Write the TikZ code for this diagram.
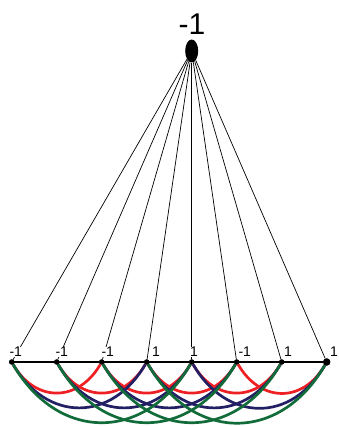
\documentclass[tikz,border=0pt]{standalone}
\usepackage{fontspec}
\setmainfont{Liberation Sans}
\usetikzlibrary{positioning,shapes.geometric}
\definecolor{arcred}{RGB}{237,32,36}
\definecolor{arcblue}{RGB}{35,31,100}
\definecolor{arcgreen}{RGB}{18,108,58}

\begin{document}
\begin{tikzpicture}[
    x=1pt, y=1pt,
    dot/.style={circle, fill=black, inner sep=0pt, minimum size=5pt},
    lab/.style={anchor=base east, fill=white, inner sep=0.5pt, font=\fontsize{14}{14}\selectfont},
    spoke/.style={black, line width=0.7pt},
    arc/.style={line width=2.7pt, draw=#1, out=-60, in=-120, looseness=1.3},
]
\useasboundingbox (0,0) rectangle (339,426);
% Top vertex
\node[ellipse, fill=black, minimum width=13pt, minimum height=23pt, inner sep=0pt] (top) at (191.7,375) {};
\node[font=\fontsize{30}{30}\selectfont] (toplab) at (192,402) {-1};
% Bottom vertices
\node[dot] (v0) at (11.7,64) {};
\node[dot] (v1) at (56.7,64) {};
\node[dot] (v2) at (101.7,64) {};
\node[dot] (v3) at (146.7,64) {};
\node[dot] (v4) at (191.7,64) {};
\node[dot] (v5) at (236.7,64) {};
\node[dot] (v6) at (281.7,64) {};
\node[dot, minimum size=7pt] (v7) at (326.7,64) {};
% Spokes
\draw[spoke] (top) -- (v0);
\draw[spoke] (top) -- (v1);
\draw[spoke] (top) -- (v2);
\draw[spoke] (top) -- (v3);
\draw[spoke] (top) -- (v4);
\draw[spoke] (top) -- (v5);
\draw[spoke] (top) -- (v6);
\draw[spoke] (top) -- (v7);
% Path
\draw[line width=2.7pt] (v0.center) -- (v7.center);
% Arcs
\draw[arc=arcred] (v0) to (v2);
\draw[arc=arcred] (v1) to (v3);
\draw[arc=arcred] (v2) to (v4);
\draw[arc=arcred] (v3) to (v5);
\draw[arc=arcred] (v4) to (v6);
\draw[arc=arcred] (v5) to (v7);
\draw[arc=arcblue] (v0) to (v3);
\draw[arc=arcblue] (v1) to (v4);
\draw[arc=arcblue] (v2) to (v5);
\draw[arc=arcblue] (v3) to (v6);
\draw[arc=arcblue] (v4) to (v7);
\draw[arc=arcgreen] (v0) to (v4);
\draw[arc=arcgreen] (v1) to (v5);
\draw[arc=arcgreen] (v2) to (v6);
\draw[arc=arcgreen] (v3) to (v7);
% Redraw vertices on top
\foreach \v in {v0,v1,v2,v3,v4,v5,v6} \fill (\v) circle (2.7pt);
\fill (v7) circle (3.7pt);
% Labels
\node[lab] (l0) at ([xshift=11pt,yshift=5pt]v0.center) {-1};
\node[lab] (l1) at ([xshift=12pt,yshift=5pt]v1.center) {-1};
\node[lab] (l2) at ([xshift=13pt,yshift=5pt]v2.center) {-1};
\node[lab] (l3) at ([xshift=14pt,yshift=5pt]v3.center) {1};
\node[lab] (l4) at ([xshift=7pt,yshift=5pt]v4.center) {1};
\node[lab] (l5) at ([xshift=15pt,yshift=5pt]v5.center) {-1};
\node[lab] (l6) at ([xshift=11pt,yshift=5pt]v6.center) {1};
\node[lab] (l7) at ([xshift=12pt,yshift=5pt]v7.center) {1};
\end{tikzpicture}
\end{document}
